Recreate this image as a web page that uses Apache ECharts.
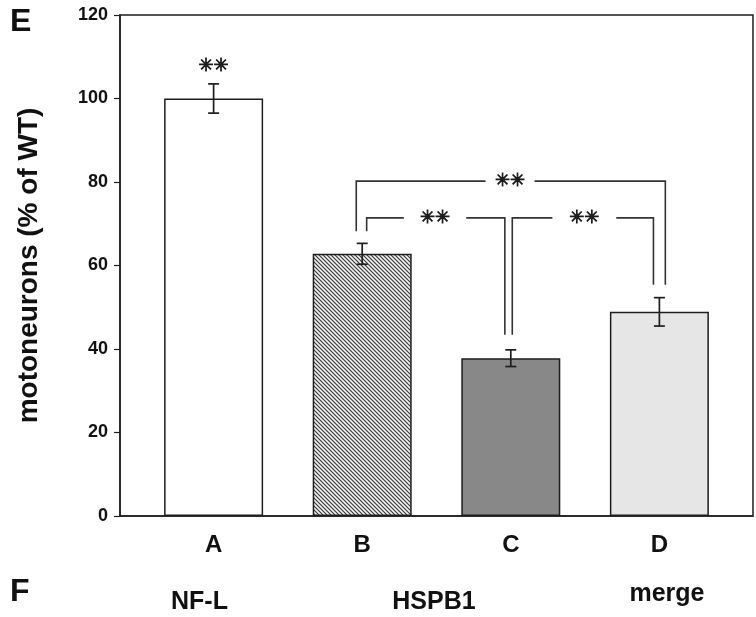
<!DOCTYPE html>
<html>
<head>
<meta charset="utf-8">
<script src="https://cdn.jsdelivr.net/npm/echarts@6/dist/echarts.min.js"></script>
<style>
html,body{margin:0;padding:0;background:#fff;}
#chart{width:756px;height:617px;}
</style>
</head>
<body>
<div id="chart"></div>
<script>
// ---- data ----
const categories = ['A', 'B', 'C', 'D'];
const categoryPos = [1, 2, 3, 4];
const values = [100, 62.8, 37.8, 48.9];
const errors = [3.5, 2.5, 2.0, 3.4];
const groupLabels = ['NF-L', 'HSPB1', 'merge'];
const yMin = 0, yMax = 120, yStep = 20;
const axisTitle = 'motoneurons (% of WT)';
// significance brackets: [leftX, rightX, levelY, leftLegBottomY, rightLegBottomY, gapStartX, gapEndX, starX]
const bracketOuter = [1.96, 4.04, 80.2, 68.2, 55.4, 2.83, 3.16, 2.995];
const bracketBC = [2.03, 2.96, 71.4, 68.2, 43.4, 2.28, 2.70, 2.49];
const bracketCD = [3.01, 3.96, 71.4, 43.4, 55.4, 3.28, 3.71, 3.495];
const starAboveA = [1, 107.6];

// ---- styles ----
function hatch() {
  const c = document.createElement('canvas');
  c.width = 4; c.height = 4;
  const g = c.getContext('2d');
  g.fillStyle = '#f2f2f2';
  g.fillRect(0, 0, 4, 4);
  g.strokeStyle = '#3a3a3a';
  g.lineWidth = 1.2;
  g.beginPath();
  g.moveTo(-1, -1); g.lineTo(5, 5);
  g.moveTo(-1, 3); g.lineTo(1, 5);
  g.moveTo(3, -1); g.lineTo(5, 1);
  g.stroke();
  return c;
}
const fills = ['#ffffff', {image: hatch(), repeat: 'repeat'}, '#888888', '#e6e6e6'];
const ink = '#1e1e1e';
const FONT = '"Liberation Sans", Arial, sans-serif';
const STAR_FONT = '18px "DejaVu Sans"';
const STARS = '\u2733\u2733';
const starStyle = {text: STARS, font: STAR_FONT, align: 'center', verticalAlign: 'middle', fill: '#1a1a1a', stroke: '#1a1a1a', lineWidth: 0.8};

const chart = echarts.init(document.getElementById('chart'), null, {renderer: 'canvas'});

const barData = categoryPos.map((x, i) => ({
  value: [x, values[i]],
  itemStyle: {color: fills[i]}
}));
const errData = categoryPos.map((x, i) => [x, values[i], errors[i]]);
const brackets = [bracketOuter, bracketBC, bracketCD];

chart.setOption({
  animation: false,
  backgroundColor: '#ffffff',
  grid: {left: 120, right: 3, top: 15, bottom: 101, show: true, borderColor: ink, borderWidth: 1.5, backgroundColor: 'transparent'},
  xAxis: {
    type: 'value', min: 0.37, max: 4.63,
    splitLine: {show: false},
    axisLine: {show: true, onZero: false, lineStyle: {color: ink, width: 1.5}},
    axisTick: {show: false},
    axisLabel: {
      customValues: categoryPos,
      formatter: v => categories[categoryPos.indexOf(v)] || '',
      margin: 17,
      fontFamily: FONT, fontWeight: 'bold', fontSize: 24, color: '#111'
    }
  },
  yAxis: {
    type: 'value', min: yMin, max: yMax, interval: yStep,
    splitLine: {show: false},
    axisLine: {show: true, lineStyle: {color: ink, width: 1.5}},
    axisTick: {show: true, inside: false, length: 6, lineStyle: {color: ink, width: 1.2}},
    axisLabel: {margin: 12, fontFamily: FONT, fontWeight: 'bold', fontSize: 18, color: '#111'},
    name: axisTitle,
    nameLocation: 'middle',
    nameGap: 77,
    nameRotate: 90,
    nameTextStyle: {fontFamily: FONT, fontWeight: 'bold', fontSize: 28, color: '#111'}
  },
  series: [
    {
      type: 'bar',
      data: barData,
      barWidth: 99,
      itemStyle: {borderColor: ink, borderWidth: 1.5},
      z: 2
    },
    {
      type: 'custom',
      data: errData,
      z: 3,
      renderItem: function (params, api) {
        const x = api.value(0), v = api.value(1), e = api.value(2);
        const t = api.coord([x, v + e]), b = api.coord([x, v - e]);
        const hw = 5.5;
        const st = {stroke: ink, lineWidth: 1.7};
        return {type: 'group', children: [
          {type: 'line', shape: {x1: t[0], y1: t[1], x2: b[0], y2: b[1]}, style: st},
          {type: 'line', shape: {x1: t[0] - hw, y1: t[1], x2: t[0] + hw, y2: t[1]}, style: st},
          {type: 'line', shape: {x1: b[0] - hw, y1: b[1], x2: b[0] + hw, y2: b[1]}, style: st}
        ]};
      }
    },
    {
      type: 'custom',
      data: brackets,
      z: 4,
      renderItem: function (params, api) {
        const x1 = api.value(0), x2 = api.value(1), y = api.value(2);
        const yb1 = api.value(3), yb2 = api.value(4);
        const g1 = api.value(5), g2 = api.value(6), sx = api.value(7);
        const p = (a, b) => api.coord([a, b]);
        const st = {stroke: '#333', lineWidth: 1.6, fill: null};
        const s = p(sx, y);
        return {type: 'group', children: [
          {type: 'polyline', shape: {points: [p(x1, yb1), p(x1, y), p(g1, y)]}, style: st},
          {type: 'polyline', shape: {points: [p(g2, y), p(x2, y), p(x2, yb2)]}, style: st},
          {type: 'text', x: s[0], y: s[1], style: starStyle}
        ]};
      }
    },
    {
      type: 'custom',
      data: [starAboveA],
      z: 4,
      renderItem: function (params, api) {
        const s = api.coord([api.value(0), api.value(1)]);
        return {type: 'text', x: s[0], y: s[1], style: starStyle};
      }
    }
  ],
  graphic: [
    {type: 'text', left: 10, top: 6, style: {text: 'E', font: 'bold 32px ' + FONT, fill: '#111'}},
    {type: 'text', left: 10, top: 576, style: {text: 'F', font: 'bold 32px ' + FONT, fill: '#111'}},
    {type: 'text', x: 199.5, y: 602, style: {text: groupLabels[0], font: 'bold 25px ' + FONT, fill: '#111', align: 'center', verticalAlign: 'middle'}},
    {type: 'text', x: 434, y: 602, style: {text: groupLabels[1], font: 'bold 25px ' + FONT, fill: '#111', align: 'center', verticalAlign: 'middle'}},
    {type: 'text', x: 667, y: 594, style: {text: groupLabels[2], font: 'bold 25px ' + FONT, fill: '#111', align: 'center', verticalAlign: 'middle'}}
  ]
});
</script>
</body>
</html>
